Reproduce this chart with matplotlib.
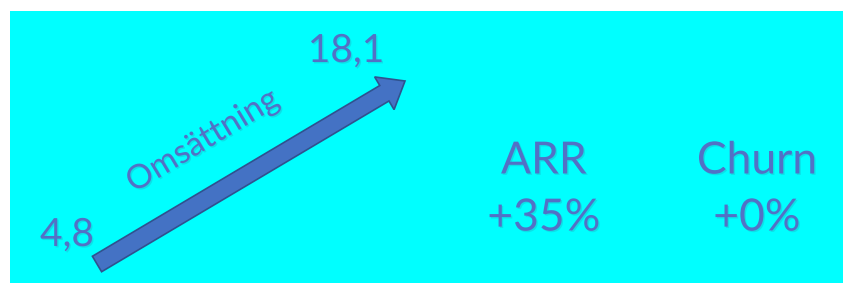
import matplotlib.pyplot as plt
import matplotlib.patheffects as pe
from matplotlib.patches import Rectangle, FancyArrow

# Chart values
revenue_start = "4,8"
revenue_end = "18,1"
revenue_label = "Omsättning"
kpi_names = ["ARR", "Churn"]
kpi_values = ["+35%", "+0%"]

text_color = "#5271C6"
shadow = [pe.withSimplePatchShadow(offset=(1, -1), shadow_rgbFace="#3a6a90", alpha=0.2)]

fig = plt.figure(figsize=(8.43, 2.84), dpi=100)
ax = fig.add_axes([0, 0, 1, 1])
ax.set_xlim(0, 843)
ax.set_ylim(284, 0)
ax.axis("off")

# background panel
ax.add_patch(Rectangle((10, 11), 833, 272, facecolor="#00FFFF", edgecolor="none"))

# revenue arrow
x0, y0 = 97, 264
x1, y1 = 405, 81
ax.add_patch(FancyArrow(x0, y0, x1 - x0, y1 - y0, width=18, head_width=38, head_length=24,
                        length_includes_head=True, facecolor="#4472C4", edgecolor="#2F528F",
                        linewidth=1.2))

font = "Lato"
ax.text(67, 235, revenue_start, fontsize=28, color=text_color, family=font,
        ha="center", va="center", path_effects=shadow)
ax.text(346, 51, revenue_end, fontsize=28, color=text_color, family=font,
        ha="center", va="center", path_effects=shadow)
ax.text(203, 141, revenue_label, fontsize=24, color=text_color, family=font,
        ha="center", va="center", rotation=31, rotation_mode="anchor", path_effects=shadow)

# KPI blocks
for x, name, val in zip([544, 757], kpi_names, kpi_values):
    ax.text(x, 161, name, fontsize=32, color=text_color, family=font,
            ha="center", va="center", path_effects=shadow)
    ax.text(x, 218, val, fontsize=32, color=text_color, family=font,
            ha="center", va="center", path_effects=shadow)

fig.savefig("out.png", dpi=100, facecolor="white")
